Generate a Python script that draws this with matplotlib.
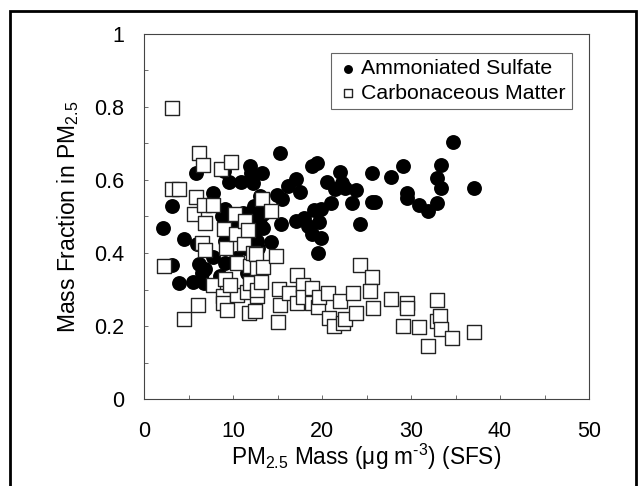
import numpy as np
import matplotlib.pyplot as plt
from matplotlib.patches import Rectangle
from matplotlib.ticker import MultipleLocator

plt.rcParams['font.family'] = ['Liberation Sans', 'DejaVu Sans']
plt.rcParams['mathtext.default'] = 'regular'

# ammoniated sulfate fraction vs PM2.5 mass
sulf_x = [2.1, 3.1, 3.2, 3.9, 4.5, 5.5, 5.8, 5.9, 6.2, 6.5, 6.9, 6.7, 7.7, 7.7, 8.5,
          9.0, 9.1, 8.8, 9.1, 9.1, 9.6, 10.3, 10.3, 10.9, 11.1, 11.3, 11.6, 11.9, 12.0,
          12.2, 11.8, 12.2, 12.7, 12.7, 12.7, 12.8, 13.0, 13.3, 13.4, 13.4, 14.3, 14.9,
          15.3, 15.4, 15.5, 16.2, 17.1, 17.5, 17.1, 18.0, 18.4, 18.9, 18.9, 19.4, 19.1,
          19.7, 19.9, 19.6, 19.9, 20.6, 21.0, 21.5, 22.0, 22.2, 22.6, 23.4, 23.8, 24.3,
          25.6, 25.6, 25.9, 27.7, 29.1, 29.6, 29.5, 30.9, 31.9, 32.9, 32.9, 33.4, 33.4,
          34.7, 37.1, 10.0, 10.8, 11.5, 12.4, 9.5, 13.0]
sulf_y = [0.468, 0.529, 0.368, 0.318, 0.439, 0.320, 0.618, 0.425, 0.371, 0.346, 0.355,
          0.318, 0.390, 0.565, 0.337, 0.625, 0.520, 0.500, 0.373, 0.433, 0.595, 0.483,
          0.387, 0.595, 0.510, 0.414, 0.346, 0.639, 0.620, 0.593, 0.510, 0.488, 0.515,
          0.465, 0.433, 0.414, 0.556, 0.618, 0.469, 0.506, 0.431, 0.560, 0.673, 0.479,
          0.547, 0.584, 0.602, 0.567, 0.488, 0.497, 0.474, 0.453, 0.639, 0.646, 0.518,
          0.485, 0.440, 0.400, 0.520, 0.595, 0.536, 0.575, 0.623, 0.593, 0.579, 0.538,
          0.573, 0.480, 0.620, 0.540, 0.540, 0.608, 0.637, 0.565, 0.550, 0.531, 0.514,
          0.536, 0.605, 0.641, 0.579, 0.705, 0.578, 0.490, 0.470, 0.500, 0.530, 0.470, 0.480]

# carbonaceous matter fraction vs PM2.5 mass
carb_x = [3.1, 2.2, 3.2, 3.9, 4.5, 5.6, 5.8, 6.1, 6.2, 6.5, 6.6, 6.7, 6.9, 6.9, 7.8,
          7.8, 8.6, 9.0, 9.2, 9.1, 8.9, 8.9, 9.3, 9.8, 10.2, 10.3, 10.5, 10.4, 9.7,
          11.2, 11.3, 11.7, 11.6, 11.8, 11.9, 11.9, 12.2, 12.5, 12.7, 12.7, 12.6, 12.7,
          13.2, 13.4, 13.3, 14.3, 14.8, 15.1, 15.3, 15.2, 16.3, 17.2, 17.2, 17.9, 17.9,
          18.9, 18.9, 19.5, 19.7, 20.7, 20.8, 21.3, 22.0, 22.4, 22.6, 23.5, 23.8, 24.3,
          25.6, 25.4, 25.7, 27.7, 29.1, 29.6, 29.5, 30.9, 31.9, 32.9, 32.9, 33.3, 33.4,
          34.6, 37.1]
carb_y = [0.797, 0.364, 0.575, 0.576, 0.220, 0.506, 0.554, 0.257, 0.673, 0.428, 0.641,
          0.532, 0.483, 0.408, 0.532, 0.312, 0.629, 0.465, 0.414, 0.329, 0.282, 0.262,
          0.243, 0.648, 0.508, 0.452, 0.373, 0.286, 0.311, 0.426, 0.488, 0.463, 0.293,
          0.236, 0.318, 0.364, 0.401, 0.241, 0.282, 0.300, 0.396, 0.360, 0.320, 0.362,
          0.547, 0.515, 0.393, 0.211, 0.257, 0.302, 0.291, 0.341, 0.262, 0.311, 0.280,
          0.304, 0.263, 0.251, 0.280, 0.291, 0.222, 0.199, 0.268, 0.207, 0.218, 0.291,
          0.236, 0.367, 0.334, 0.297, 0.248, 0.273, 0.201, 0.263, 0.250, 0.197, 0.146,
          0.270, 0.215, 0.227, 0.192, 0.166, 0.184]

x_ticks = [0, 10, 20, 30, 40, 50]
x_tick_labels = ['0', '10', '20', '30', '40', '50']
y_ticks = [0, 0.2, 0.4, 0.6, 0.8, 1.0]
y_tick_labels = ['0', '0.2', '0.4', '0.6', '0.8', '1']

fig = plt.figure(figsize=(6.44, 4.86), dpi=100)
ax = fig.add_axes([144 / 644, 1 - 399 / 486, 445 / 644, 365 / 486])

ax.scatter(sulf_x, sulf_y, s=115, marker='o', color='black', linewidths=0,
           label='Ammoniated Sulfate', zorder=2)
ax.scatter(carb_x, carb_y, s=105, marker='s', facecolor='white', edgecolor='#222222',
           linewidths=1.0, label='Carbonaceous Matter', zorder=3)

ax.set_xlim(0, 50)
ax.set_ylim(0, 1)
ax.set_xticks(x_ticks)
ax.set_xticklabels(x_tick_labels)
ax.set_yticks(y_ticks)
ax.set_yticklabels(y_tick_labels)
ax.xaxis.set_minor_locator(MultipleLocator(5))
ax.yaxis.set_minor_locator(MultipleLocator(0.1))
ax.tick_params(which='both', direction='in', length=3, width=0.6, color='#555555',
               labelsize=15.5)
ax.tick_params(axis='x', pad=16)
ax.tick_params(axis='y', pad=14)
for sp in ax.spines.values():
    sp.set_linewidth(0.8)
    sp.set_color('#444444')

ax.set_xlabel('PM$_{2.5}$ Mass ($\\mu$g m$^{\u2010 3}$) (SFS)', fontsize=16.3, labelpad=0)
ax.set_ylabel('Mass Fraction in PM$_{2.5}$', fontsize=16.5, labelpad=10)

leg = ax.legend(loc='upper right', bbox_to_anchor=(0.962, 0.948), fontsize=15.3,
                frameon=True, fancybox=False, edgecolor='#666666', framealpha=1,
                handletextpad=0.1, markerscale=0.6, borderpad=0.3, labelspacing=0.25,
                handlelength=1.0, borderaxespad=0)
leg.get_frame().set_linewidth(0.8)

fig.patches.append(Rectangle((9.5 / 644, -0.05), (636 - 9.5) / 644, 1.05 - 11 / 486,
                             transform=fig.transFigure, fill=False,
                             edgecolor='black', linewidth=2))

fig.savefig('out.png', dpi=100)
